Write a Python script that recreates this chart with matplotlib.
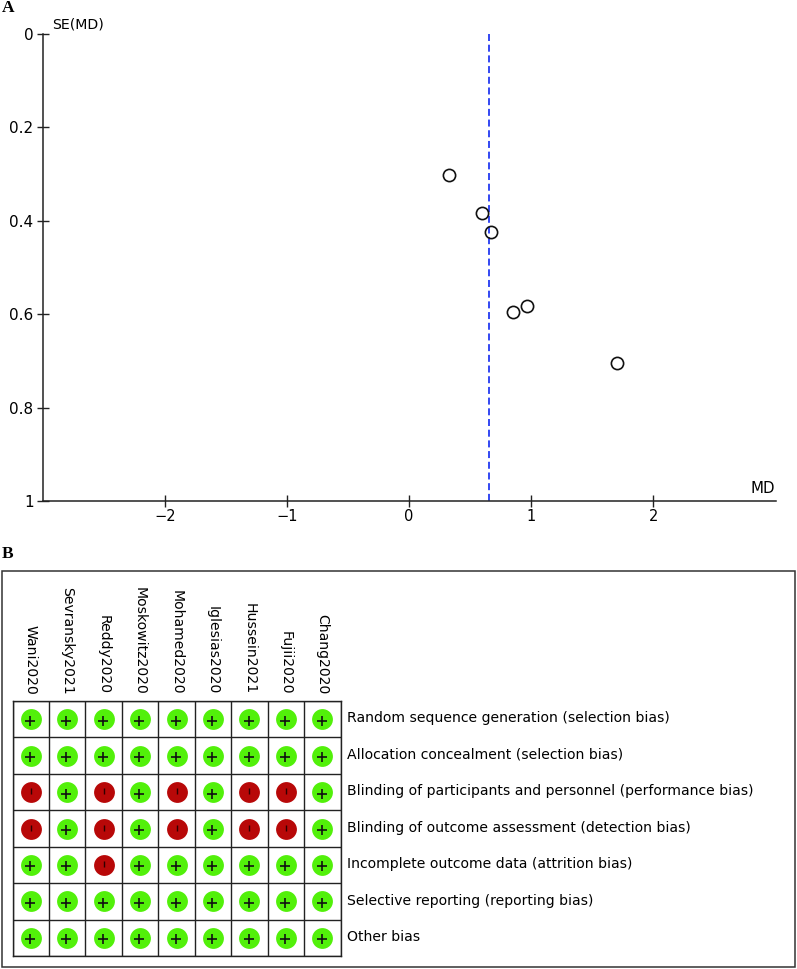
import matplotlib
matplotlib.use('Agg')
import matplotlib.pyplot as plt
from matplotlib.patches import Rectangle

# funnel plot data
md = [0.327, 0.597, 0.674, 0.848, 0.968, 1.705]
se_md = [0.302, 0.384, 0.423, 0.595, 0.583, 0.705]
pooled_md = 0.654
x_ticks = [-2, -1, 0, 1, 2]
x_tick_labels = ['\u22122', '\u22121', '0', '1', '2']
y_ticks = [0, 0.2, 0.4, 0.6, 0.8, 1]
y_tick_labels = ['0', '0.2', '0.4', '0.6', '0.8', '1']

# risk of bias table, columns left to right
studies = ['Wani2020', 'Sevransky2021', 'Reddy2020', 'Moskowitz2020', 'Mohamed2020',
           'Iglesias2020', 'Hussein2021', 'Fujii2020', 'Chang2020']
domains = ['Random sequence generation (selection bias)',
           'Allocation concealment (selection bias)',
           'Blinding of participants and personnel (performance bias)',
           'Blinding of outcome assessment (detection bias)',
           'Incomplete outcome data (attrition bias)',
           'Selective reporting (reporting bias)',
           'Other bias']
judgements = [['+', '+', '+', '+', '+', '+', '+', '+', '+'],
              ['+', '+', '+', '+', '+', '+', '+', '+', '+'],
              ['-', '+', '-', '+', '-', '+', '-', '-', '+'],
              ['-', '+', '-', '+', '-', '+', '-', '-', '+'],
              ['+', '+', '-', '+', '+', '+', '+', '+', '+'],
              ['+', '+', '+', '+', '+', '+', '+', '+', '+'],
              ['+', '+', '+', '+', '+', '+', '+', '+', '+']]

W, H = 797, 969
GREEN = '#52f00a'
RED = '#b80808'
FONT = 'DejaVu Sans'

fig = plt.figure(figsize=(W / 100, H / 100), dpi=100)


def axes_px(left, top, right, bottom):
    return fig.add_axes([left / W, 1 - bottom / H, (right - left) / W, (bottom - top) / H])


# page level axes in pixels, for panel letters and frame
page = fig.add_axes([0, 0, 1, 1])
page.set_xlim(0, W)
page.set_ylim(H, 0)
page.axis('off')
page.text(1.5, 8, 'A', fontsize=12.5, fontweight='bold', family='Liberation Serif', va='center')
page.text(1.5, 554, 'B', fontsize=12.5, fontweight='bold', family='Liberation Serif', va='center')
page.add_patch(Rectangle((2, 571), 793, 395.5, fill=False, ec='#333333', lw=1.1))

# panel A
ax = axes_px(42.6, 34, 775.6, 501)
ax.patch.set_alpha(0)
ax.set_xlim(-3, 3)
ax.set_ylim(1, 0)
ax.spines['top'].set_visible(False)
ax.spines['right'].set_visible(False)
ax.spines['left'].set_linewidth(1.1)
ax.spines['bottom'].set_linewidth(1.1)
ax.spines['left'].set_color('#222222')
ax.spines['bottom'].set_color('#222222')
ax.plot([pooled_md, pooled_md], [0, 1], color='#3348f2', lw=1.4, ls=(0, (3.6, 1.9)))
ax.plot(md, se_md, 'o', mfc='none', mec='#111111', mew=1.2, ms=8.8, clip_on=False)
ax.set_xticks(x_ticks)
ax.set_xticklabels(x_tick_labels, fontsize=10.5, family=FONT)
ax.set_yticks(y_ticks)
ax.set_yticklabels(y_tick_labels, fontsize=11, family=FONT)
ax.tick_params(axis='x', direction='inout', length=8, width=1, pad=1.5, color='#222222')
ax.tick_params(axis='y', direction='inout', length=8, width=1, pad=2.5, color='#222222')
page.text(52, 24, 'SE(MD)', fontsize=10.2, family=FONT, va='center')
page.text(775, 488, 'MD', fontsize=10.8, family=FONT, va='center', ha='right')

# panel B
grid = axes_px(12.5, 701, 340.5, 956)
grid.set_xlim(0, len(studies))
grid.set_ylim(len(domains), 0)
grid.set_xticks(range(len(studies) + 1))
grid.set_yticks(range(len(domains) + 1))
grid.grid(True, color='#222222', lw=1.0)
grid.tick_params(length=0, labelbottom=False, labelleft=False)
for s in grid.spines.values():
    s.set_linewidth(1.0)
    s.set_color('#222222')
grid.set_axisbelow(True)

for r, row in enumerate(judgements):
    for c, j in enumerate(row):
        grid.plot(c + 0.5, r + 0.5, 'o', ms=15, mfc=GREEN if j == '+' else RED, mec='none')
        if j == '+':
            grid.plot(c + 0.48, r + 0.54, '+', ms=6.5, mew=1.2, color='#111111', snap=False)
        else:
            grid.plot(c + 0.5, r + 0.48, '|', ms=4.5, mew=1.0, color='#300000', snap=False)

for c, name in enumerate(studies):
    grid.text(c + 0.5, -0.18, name, rotation=270, fontsize=10.1, family=FONT, ha='center', va='bottom')
for r, name in enumerate(domains):
    grid.text(9.17, r + 0.48, name, fontsize=10.1, family=FONT, ha='left', va='center')

fig.savefig('out.png', dpi=100)
